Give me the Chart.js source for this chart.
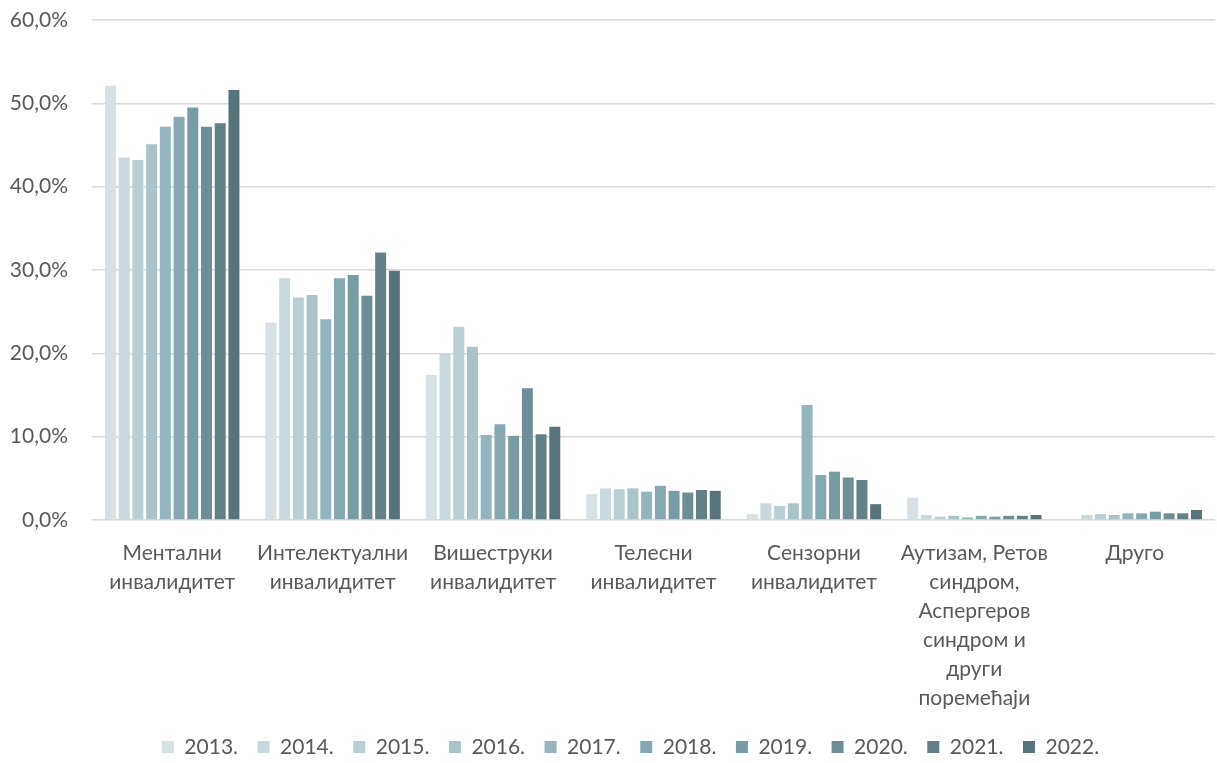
<!DOCTYPE html>
<html>
<head>
<meta charset="utf-8">
<script src="https://cdn.jsdelivr.net/npm/chart.js@4/dist/chart.umd.min.js"></script>
<style>
  body { margin: 0; background: #fff; }
  #wrap { width: 1217px; height: 763px; }
</style>
</head>
<body>
<div id="wrap"><canvas id="chart"></canvas></div>
<script>
// categories (multi-line labels)
const categories = [
    ['Ментални', 'инвалидитет'],
    ['Интелектуални', 'инвалидитет'],
    ['Вишеструки', 'инвалидитет'],
    ['Телесни', 'инвалидитет'],
    ['Сензорни', 'инвалидитет'],
    ['Аутизам, Ретов', 'синдром,', 'Аспергеров', 'синдром и', 'други', 'поремећаји'],
    ['Друго']
];

const years = ['2013.', '2014.', '2015.', '2016.', '2017.', '2018.', '2019.', '2020.', '2021.', '2022.'];

// values in %, one array per category, ordered by year
const mentalni      = [52.1, 43.5, 43.2, 45.1, 47.2, 48.4, 49.5, 47.2, 47.6, 51.6];
const intelektualni = [23.7, 29.0, 26.7, 27.0, 24.1, 29.0, 29.4, 26.9, 32.1, 29.9];
const visestruki    = [17.4, 20.0, 23.2, 20.8, 10.2, 11.5, 10.1, 15.8, 10.3, 11.2];
const telesni       = [3.1, 3.8, 3.7, 3.8, 3.4, 4.1, 3.5, 3.3, 3.6, 3.5];
const senzorni      = [0.7, 2.0, 1.7, 2.0, 13.8, 5.4, 5.8, 5.1, 4.8, 1.9];
const autizam       = [2.7, 0.6, 0.4, 0.5, 0.3, 0.5, 0.4, 0.5, 0.5, 0.6];
const drugo         = [0, 0.6, 0.7, 0.6, 0.8, 0.8, 1.0, 0.8, 0.8, 1.2];

const yTicks = [0, 10, 20, 30, 40, 50, 60];

const colors = ['#d7e1e4', '#c9d8dc', '#b9cfd4', '#a9c3c9', '#94b5bd',
                '#85a9b1', '#789ca4', '#6e8e96', '#648087', '#587379'];

const byCategory = [mentalni, intelektualni, visestruki, telesni, senzorni, autizam, drugo];

const textColor = '#595959';
const fontFamily = 'Lato, "Open Sans", sans-serif';

const datasets = years.map((y, i) => ({
    label: y,
    data: byCategory.map(arr => arr[i]),
    backgroundColor: colors[i],
    borderWidth: 0,
    categoryPercentage: 0.855,
    barPercentage: 0.8
}));

// legend: keep the row compact and nudge it right like the original
const legendFitPlugin = {
    id: 'legendFit',
    beforeLayout(chart) {
        const lg = chart.legend;
        if (!lg || lg._patched) return;
        const origFit = lg.fit.bind(lg);
        lg.fit = function () {
            origFit();
            this.height = 44;
            this.lineWidths[0] -= 36;
        };
        lg._patched = true;
    }
};

new Chart(document.getElementById('chart'), {
    type: 'bar',
    data: { labels: categories, datasets: datasets },
    plugins: [legendFitPlugin],
    options: {
        responsive: true,
        maintainAspectRatio: false,
        animation: false,
        layout: { padding: { left: 10, right: 2, top: 20, bottom: 2 } },
        plugins: {
            tooltip: { enabled: false },
            legend: {
                position: 'bottom',
                labels: {
                    boxWidth: 12,
                    boxHeight: 12,
                    padding: 19.5,
                    color: textColor,
                    font: { family: fontFamily, size: 21 }
                }
            }
        },
        scales: {
            x: {
                grid: { display: false, drawTicks: false },
                border: { display: false },
                afterFit: scale => { scale.height = 197; },
                ticks: {
                    color: textColor,
                    maxRotation: 0,
                    autoSkip: false,
                    padding: 18.5,
                    font: { family: fontFamily, size: 21, lineHeight: 1.38 }
                }
            },
            y: {
                min: 0,
                max: 60,
                afterBuildTicks: axis => { axis.ticks = yTicks.map(v => ({ value: v })); },
                afterFit: scale => {
                    scale.width = 82;
                    scale.paddingTop = 0;
                    scale.paddingBottom = 0;
                },
                grid: { color: '#d9d9d9', lineWidth: 1.5, drawTicks: false },
                border: { display: false },
                ticks: {
                    color: textColor,
                    padding: 24,
                    font: { family: fontFamily, size: 21 },
                    callback: v => v.toFixed(1).replace('.', ',') + '%'
                }
            }
        }
    }
});
</script>
</body>
</html>
